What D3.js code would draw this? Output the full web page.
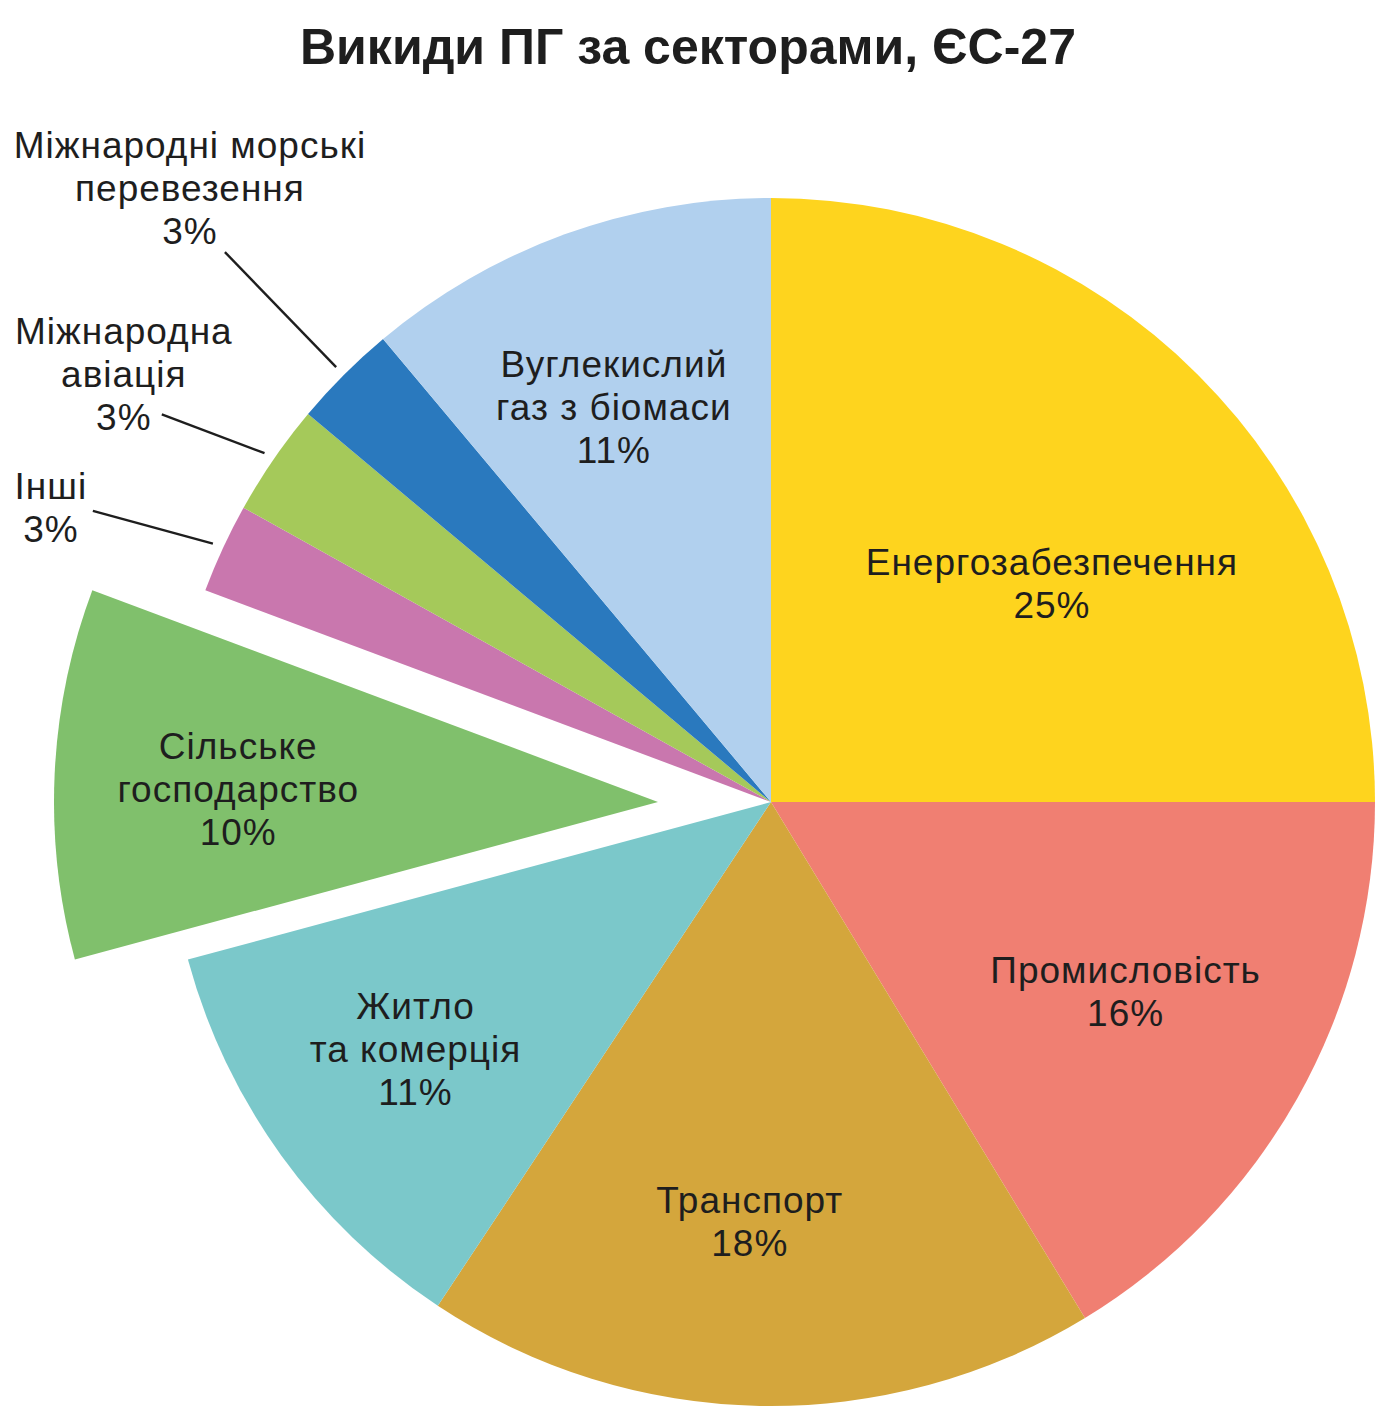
<!DOCTYPE html>
<html lang="uk">
<head>
  <meta charset="UTF-8">
  <title>Викиди ПГ за секторами, ЄС-27</title>
  <script src="https://d3js.org/d3.v7.min.js"></script>
  <style>
    html, body { margin: 0; padding: 0; background: #fff; }
    svg text { font-family: "Liberation Sans", Arial, Helvetica, sans-serif; fill: #1e1e1e; }
  </style>
</head>
<body>
<script>
  ((window, document) => {
    "use strict";

    /**
     * ---------------------------------------------------------------------
     *  Data (share of EU-27 greenhouse gas emissions, clockwise from 12h)
     * ---------------------------------------------------------------------
     */
    const SECTORS = [
      "Енергозабезпечення",
      "Промисловість",
      "Транспорт",
      "Житло та комерція",
      "Сільське господарство",
      "Інші",
      "Міжнародна авіація",
      "Міжнародні морські перевезення",
      "Вуглекислий газ з біомаси",
    ];
    // slice sizes
    const SHARES = [25.0, 16.3, 18.0, 11.5, 9.9, 2.4, 3.0, 2.8, 11.1];
    // percentages printed on the chart
    const PERCENT_LABELS = ["25%", "16%", "18%", "11%", "10%", "3%", "3%", "3%", "11%"];
    // how each label breaks into lines
    const LABEL_LINES = [
      ["Енергозабезпечення"],
      ["Промисловість"],
      ["Транспорт"],
      ["Житло", "та комерція"],
      ["Сільське", "господарство"],
      ["Інші"],
      ["Міжнародна", "авіація"],
      ["Міжнародні морські", "перевезення"],
      ["Вуглекислий", "газ з біомаси"],
    ];
    const COLORS = [
      "#fed41e", "#f07f72", "#d4a63c", "#7bc8ca", "#80c06c",
      "#c977ae", "#a5c95a", "#2a79be", "#b1d0ee",
    ];


    /**
     * ---------------------------------------------------------------------
     *  Layout
     * ---------------------------------------------------------------------
     */
    const WIDTH = 1390;
    const HEIGHT = 1420;
    const CX = 771;
    const CY = 802;
    const RADIUS = 604;
    const FONT_SIZE = 37;
    const LINE_HEIGHT = 43;
    const EXPLODED = { "Сільське господарство": 113 };
    // inside label placement [radius, angle in deg] (from the slice's own centre)
    const LABEL_POLAR = {
      "Енергозабезпечення":    [356, 52.1],
      "Промисловість":         [402, 118.1],
      "Транспорт":             [420, 182.9],
      "Житло та комерція":     [433, 235.2],
      "Сільське господарство": [420, 271.8],
      "Вуглекислий газ з біомаси": [425, 338.3],
    };
    // outside labels: leader from r=615 out to [radius, angle shift deg], text offset [dx, dy]
    const OUTSIDE = {
      "Інші":                           { r: 738, shift: -1.6, dx: -42, dy: -4 },
      "Міжнародна авіація":             { r: 722, shift: -2.1, dx: -38, dy: -41 },
      "Міжнародні морські перевезення": { r: 775, shift: 0.2,  dx: -35, dy: -64 },
    };
    const LEADER_START = 615;

    const rad = deg => deg * Math.PI / 180;

    const svg = d3.select("body").append("svg")
        .attr("width", WIDTH)
        .attr("height", HEIGHT);

    // title
    svg.append("text")
        .attr("x", 688)
        .attr("y", 64)
        .attr("text-anchor", "middle")
        .attr("font-size", 50)
        .attr("font-weight", "bold")
        .attr("textLength", 776)
        .attr("lengthAdjust", "spacingAndGlyphs")
        .text("Викиди ПГ за секторами, ЄС-27");

    const pie = d3.pie().sort(null).value(d => d.value);
    const arc = d3.arc().innerRadius(0).outerRadius(RADIUS);

    const data = SECTORS.map((name, i) => ({
      name,
      value: SHARES[i],
      percent: PERCENT_LABELS[i],
      lines: LABEL_LINES[i],
      color: COLORS[i],
    }));
    const arcs = pie(data);

    const chart = svg.append("g")
        .attr("transform", `translate(${CX},${CY})`);

    const slices = chart.selectAll("g.slice")
        .data(arcs)
        .join("g")
        .attr("class", "slice")
        .attr("transform", d => {
          let shift = EXPLODED[d.data.name] || 0;
          // exploded piece is pulled straight out to the left
          return `translate(${-shift},0)`;
        });

    slices.append("path")
        .attr("d", arc)
        .attr("fill", d => d.data.color);

    /**
     * Draw a block of centred lines around (x, y)
     */
    function drawBlock (parent, lines, x, y) {
      let n = lines.length;
      let t = parent.append("text")
          .attr("text-anchor", "middle")
          .attr("font-size", FONT_SIZE)
          .attr("letter-spacing", 1);
      lines.forEach((line, i) => {
        let cy = y + (i - (n - 1) / 2) * LINE_HEIGHT;
        t.append("tspan")
            .attr("x", x)
            .attr("y", cy + FONT_SIZE * 0.36)
            .text(line);
      });
    }

    // inside labels
    slices.filter(d => !OUTSIDE[d.data.name]).each(function (d) {
      let mid = (d.startAngle + d.endAngle) / 2;
      let r = 420;
      let polar = LABEL_POLAR[d.data.name];
      if (polar) {
        r = polar[0];
        mid = rad(polar[1]);
      }
      let [x, y] = d3.pointRadial(mid, r);
      drawBlock(d3.select(this), d.data.lines.concat(d.data.percent), x, y);
    });

    // outside labels with leader lines
    arcs.filter(d => OUTSIDE[d.data.name]).forEach(d => {
      let o = OUTSIDE[d.data.name];
      let mid = (d.startAngle + d.endAngle) / 2;
      let [x1, y1] = d3.pointRadial(mid, LEADER_START);
      let [x2, y2] = d3.pointRadial(mid + rad(o.shift), o.r);
      chart.append("line")
          .attr("x1", x1).attr("y1", y1)
          .attr("x2", x2).attr("y2", y2)
          .attr("stroke", "#1e1e1e")
          .attr("stroke-width", 2.4);
      drawBlock(chart, d.data.lines.concat(d.data.percent), x2 + o.dx, y2 + o.dy);
    });

  })(window, document);
</script>
</body>
</html>
